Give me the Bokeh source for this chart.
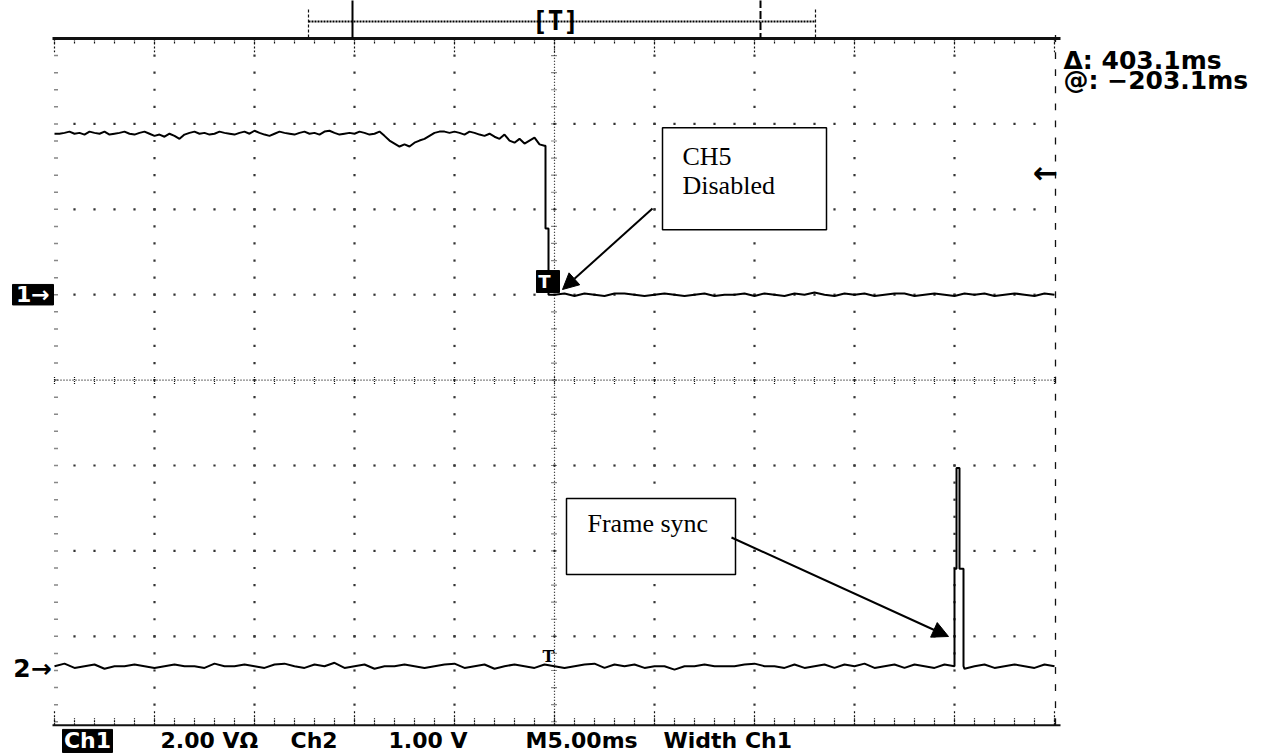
import numpy as np
from bokeh.plotting import figure
from bokeh.models import Range1d, Arrow, NormalHead
from bokeh.core.properties import value
from bokeh.embed import file_html
from bokeh.resources import INLINE

# ---------------- data ----------------
# Channel 1, volts, high level sampled every 0.25 ms from -25 ms to -0.5 ms
ch1_high_v = [
    3.77, 3.77, 3.79, 3.82, 3.77, 3.79, 3.75, 3.82, 3.79, 3.77,
    3.82, 3.75, 3.77, 3.79, 3.82, 3.77, 3.75, 3.79, 3.82, 3.77,
    3.72, 3.75, 3.70, 3.77, 3.72, 3.65, 3.75, 3.79, 3.82, 3.77,
    3.79, 3.75, 3.77, 3.82, 3.79, 3.77, 3.75, 3.79, 3.82, 3.77,
    3.84, 3.79, 3.75, 3.72, 3.77, 3.82, 3.79, 3.77, 3.75, 3.79,
    3.82, 3.77, 3.79, 3.75, 3.82, 3.84, 3.79, 3.75, 3.77, 3.79,
    3.77, 3.82, 3.79, 3.75, 3.77, 3.82, 3.72, 3.61, 3.54, 3.47,
    3.52, 3.47, 3.56, 3.61, 3.65, 3.72, 3.79, 3.82, 3.82, 3.79,
    3.82, 3.79, 3.75, 3.82, 3.79, 3.75, 3.72, 3.77, 3.70, 3.65,
    3.75, 3.61, 3.56, 3.65, 3.54, 3.61, 3.68, 3.52, 3.49,
]
# Channel 1 falling edge (ms, volts)
ch1_drop_t = [-0.45, -0.45, -0.30, -0.30]
ch1_drop_v = [3.49, 1.55, 1.55, 0.00]
# Channel 1, volts, low level sampled every 0.5 ms from 0 to 25 ms
ch1_low_v = [
    0.00, 0.03, -0.03, 0.03, 0.00, -0.03, 0.03, 0.03, 0.00, -0.03,
    0.00, 0.03, 0.00, -0.03, 0.00, 0.03, -0.03, 0.00, 0.00, 0.03,
    -0.03, 0.03, 0.00, -0.03, 0.03, 0.00, 0.05, 0.00, -0.03, 0.03,
    0.00, 0.03, -0.03, 0.00, 0.03, 0.03, -0.03, 0.00, 0.03, 0.00,
    -0.03, 0.03, 0.00, 0.03, -0.03, 0.00, 0.03, 0.00, -0.03, 0.03, 0.00,
]
# Channel 2, volts, sampled every 0.5 ms from -25 to 20 ms
ch2_pre_v = [
    0.00, 0.03, -0.02, 0.00, 0.02, -0.03, 0.00, 0.00, 0.02, 0.00,
    -0.02, 0.00, 0.02, 0.00, 0.00, -0.02, 0.03, 0.00, 0.00, 0.02,
    0.00, -0.02, 0.02, 0.03, 0.00, -0.02, 0.02, 0.00, 0.04, -0.02,
    0.00, 0.02, -0.03, 0.00, 0.00, 0.02, 0.00, -0.02, 0.00, 0.02,
    0.03, -0.02, 0.00, 0.02, -0.03, 0.00, 0.02, 0.00, -0.02, 0.02,
    0.00, -0.02, 0.00, 0.02, 0.03, -0.02, 0.02, 0.00, 0.02, -0.02,
    0.00, 0.00, -0.04, 0.00, 0.00, 0.02, 0.00, 0.00, 0.00, 0.02,
    0.03, 0.00, 0.00, -0.02, 0.02, -0.02, 0.00, 0.02, -0.02, 0.02,
    0.00, 0.03, -0.02, 0.00, 0.02, -0.02, 0.02, 0.00, -0.02, 0.02,
    0.00,
]
# Channel 2 frame-sync pulse (ms, volts)
ch2_spike_t = [20.0, 20.1, 20.1, 20.25, 20.25, 20.45, 20.45]
ch2_spike_v = [1.14, 1.14, 2.32, 2.32, 1.14, 1.14, 0.00]
# Channel 2, volts, every 0.5 ms from 20.5 to 25 ms
ch2_post_v = [-0.03, 0.00, 0.02, -0.02, 0.00, 0.02, 0.00, -0.02, 0.02, 0.00]

ch1_volts_per_div = 2.0
ch2_volts_per_div = 1.0
ch1_ground_div = 1.0
ch2_ground_div = -3.35
trigger_level_v = 2.86

bottom_labels = ["2.00 VΩ", "Ch2", "1.00 V", "M5.00ms", "Width Ch1"]
bottom_label_x = [-19.7, -13.2, -8.3, -1.45, 5.45]
readouts = ["Δ: 403.1ms", "@: −203.1ms"]

# ---------------- derived series ----------------
t_high = -25.0 + 0.25 * np.arange(len(ch1_high_v))
t_low = 0.5 * np.arange(len(ch1_low_v))
ch1_t = np.concatenate([t_high, ch1_drop_t, t_low])
ch1_v = np.concatenate([ch1_high_v, ch1_drop_v, ch1_low_v])
ch1_y = ch1_ground_div + ch1_v / ch1_volts_per_div

t_pre = -25.0 + 0.5 * np.arange(len(ch2_pre_v))
t_post = 20.5 + 0.5 * np.arange(len(ch2_post_v))
ch2_t = np.concatenate([t_pre, ch2_spike_t, t_post])
ch2_v = np.concatenate([ch2_pre_v, ch2_spike_v, ch2_post_v])
ch2_y = ch2_ground_div + ch2_v / ch2_volts_per_div

# ---------------- figure ----------------
p = figure(width=1287, height=753, x_range=Range1d(-27.7, 36.65),
           y_range=Range1d(-4.372, 4.445), output_backend="svg",
           toolbar_location=None, min_border=0,
           x_axis_location=None, y_axis_location=None)
p.grid.visible = False
p.outline_line_color = None
p.background_fill_color = "white"
p.border_fill_color = "white"

INK = "#111111"
minor_x = np.arange(-25, 25.001, 1.0)
major_x = np.arange(-25, 25.001, 5.0)
minor_y = np.round(np.arange(-4, 4.0001, 0.2), 3)
major_y = np.arange(-4, 4.001, 1.0)

# graticule dots
dx, dy = [], []
for xm in major_x[1:-1]:
    if xm == 0:
        continue
    for yv in minor_y[1:-1]:
        dx.append(xm); dy.append(yv)
for ym in major_y[1:-1]:
    if ym == 0:
        continue
    for xv in minor_x[1:-1]:
        dx.append(xv); dy.append(ym)
p.scatter(dx, dy, marker="square", size=2.2, fill_color="#333333", line_color=None)

# centre lines with cross ticks
p.line([0, 0], [-4, 4], line_color=INK, line_width=1.2, line_dash="1 2")
p.line([-25, 25], [0, 0], line_color=INK, line_width=1.2, line_dash="1 2")
p.segment(x0=[-0.15] * len(minor_y), x1=[0.15] * len(minor_y), y0=minor_y, y1=minor_y,
          line_color=INK, line_width=1.2, line_dash="1 1")
p.segment(x0=minor_x, x1=minor_x, y0=[-0.045] * len(minor_x), y1=[0.045] * len(minor_x),
          line_color=INK, line_width=1.2, line_dash="1 1")

# top edge
p.line([-25.1, 25.3], [4, 4], line_color=INK, line_width=3)
p.segment(x0=minor_x, x1=minor_x, y0=[4] * len(minor_x), y1=[3.93] * len(minor_x),
          line_color=INK, line_width=1.2, line_dash="2 1")
p.segment(x0=major_x, x1=major_x, y0=[4] * len(major_x), y1=[3.84] * len(major_x),
          line_color=INK, line_width=1.2, line_dash="2 2")
# bottom edge
p.line([-25.1, 25.3], [-4.04, -4.04], line_color=INK, line_width=2)
p.segment(x0=minor_x, x1=minor_x, y0=[-4.04] * len(minor_x), y1=[-3.96] * len(minor_x),
          line_color=INK, line_width=1.2, line_dash="2 1")
p.segment(x0=major_x, x1=major_x, y0=[-4.04] * len(major_x), y1=[-3.86] * len(major_x),
          line_color=INK, line_width=1.2, line_dash="2 2")
# left / right edges
p.segment(x0=[-25.0] * len(minor_y), x1=[-24.8] * len(minor_y), y0=minor_y, y1=minor_y,
          line_color=INK, line_width=1.5, line_dash="1 1")
p.segment(x0=[25.05] * len(minor_y), x1=[25.05] * len(minor_y), y0=minor_y - 0.04, y1=minor_y + 0.04,
          line_color=INK, line_width=1.3)

# traces
p.line(ch1_t, ch1_y, line_color="black", line_width=2)
p.line(ch2_t, ch2_y, line_color="black", line_width=2)

# record/cursor bar on top
p.line([-12.3, 13.05], [4.2, 4.2], line_color="black", line_width=2, line_dash="2 1")
p.segment(x0=[-12.3, 13.05], x1=[-12.3, 13.05], y0=[4.34, 4.34], y1=[4.01, 4.01],
          line_color=INK, line_width=1.2, line_dash="3 2")
p.line([-10.1, -10.1], [4.45, 4.01], line_color="black", line_width=2)
p.line([10.3, 10.3], [4.45, 4.01], line_color="black", line_width=2, line_dash="8 3")
p.text(x=[0.05], y=[4.205], text=["[T]"], text_font=value("DejaVu Sans Mono"),
       text_font_style="bold", text_font_size="26px", text_align="center",
       text_baseline="middle", text_color="black")

# cursor readouts
p.text(x=[25.45, 25.45], y=[3.742, 3.508], text=readouts, text_font=value("DejaVu Sans"),
       text_font_style="bold", text_font_size="25px", text_align="left",
       text_baseline="middle", text_color="black")

# trigger level arrow (right edge)
p.text(x=[24.55], y=[ch1_ground_div + trigger_level_v / ch1_volts_per_div], text=["←"],
       text_font=value("DejaVu Sans"), text_font_style="bold", text_font_size="30px",
       text_align="center", text_baseline="middle", text_color="black")

# channel ground markers
p.quad(left=[-27.1], right=[-25.05], bottom=[ch1_ground_div - 0.12], top=[ch1_ground_div + 0.12],
       fill_color="black", line_color="black")
p.text(x=[-26.08], y=[ch1_ground_div], text=["1→"], text_font=value("DejaVu Sans"),
       text_font_style="bold", text_font_size="22px", text_align="center",
       text_baseline="middle", text_color="white")
p.text(x=[-26.1], y=[ch2_ground_div - 0.03], text=["2→"], text_font=value("DejaVu Sans"),
       text_font_style="bold", text_font_size="25px", text_align="center",
       text_baseline="middle", text_color="black")

# trigger point markers
p.quad(left=[-0.9], right=[0.25], bottom=[1.026], top=[1.283], fill_color="black", line_color="black")
p.text(x=[-0.5], y=[1.155], text=["T"], text_font=value("DejaVu Sans"), text_font_style="bold",
       text_font_size="18px", text_align="center", text_baseline="middle", text_color="white")
p.text(x=[-0.3], y=[-3.24], text=["T"], text_font=value("DejaVu Serif"), text_font_style="bold",
       text_font_size="16px", text_align="center", text_baseline="middle", text_color="black")

# bottom status line
p.quad(left=[-24.6], right=[-22.1], bottom=[-4.36], top=[-4.09], fill_color="black", line_color="black")
p.text(x=[-23.35], y=[-4.215], text=["Ch1"], text_font=value("DejaVu Sans"), text_font_style="bold",
       text_font_size="22px", text_align="center", text_baseline="middle", text_color="white")
p.text(x=bottom_label_x, y=[-4.215] * len(bottom_labels), text=bottom_labels,
       text_font=value("DejaVu Sans"), text_font_style="bold", text_font_size="22px",
       text_align="left", text_baseline="middle", text_color="black")

# callout boxes
p.quad(left=[5.4, 0.6], right=[13.6, 9.05], bottom=[1.761, -2.276], top=[2.955, -1.386],
       fill_color="white", line_color="black", line_width=1.5)
p.text(x=[6.4, 6.4, 1.65], y=[2.62, 2.28, -1.68], text=["CH5", "Disabled", "Frame sync"],
       text_font=value("Liberation Serif"), text_font_size="26px", text_align="left",
       text_baseline="middle", text_color="black")
p.add_layout(Arrow(end=NormalHead(size=16, fill_color="black", line_color="black"),
                   x_start=4.9, y_start=2.009, x_end=0.4, y_end=1.061,
                   line_color="black", line_width=2))
p.add_layout(Arrow(end=NormalHead(size=16, fill_color="black", line_color="black"),
                   x_start=8.85, y_start=-1.843, x_end=19.7, y_end=-3.002,
                   line_color="black", line_width=2))

open("out.html", "w").write(file_html(p, INLINE))
